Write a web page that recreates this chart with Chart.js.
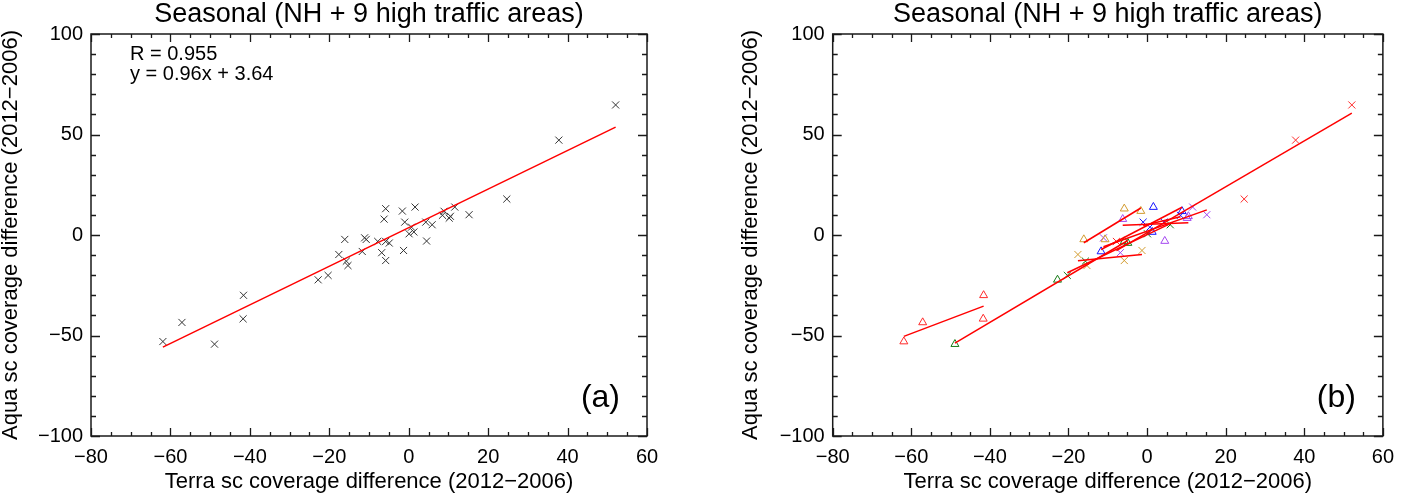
<!DOCTYPE html>
<html><head><meta charset="utf-8">
<script src="https://cdn.jsdelivr.net/npm/chart.js@4.4.0/dist/chart.umd.min.js"></script>
<style>
html,body{margin:0;padding:0;background:#fff;width:1403px;height:495px;overflow:hidden}
#wa{position:absolute;left:0;top:0;width:740px;height:495px}
#wb{position:absolute;left:740px;top:0;width:663px;height:495px}
</style></head><body>
<div id="wa"><canvas id="ca" width="740" height="495"></canvas></div>
<div id="wb"><canvas id="cb" width="663" height="495"></canvas></div>
<script>
// ---- data ----
const chartTitle = 'Seasonal (NH + 9 high traffic areas)';
const xAxisTitle = 'Terra sc coverage difference (2012\u22122006)';
const yAxisTitle = 'Aqua sc coverage difference (2012\u22122006)';
const terraDiff = [-61.9,-57.1,-48.9,-41.6,-41.7,-22.8,-20.3,-17.6,-16.1,-15.7,-15.3,-11.7,-11.1,-10.7,-7.8,-6.8,-6.2,-5.8,-5.8,-5.8,-4.9,-1.6,-1.3,-1.0,0.1,0.7,1.3,1.6,4.3,4.5,5.9,8.5,8.9,10.2,10.5,11.6,15.2,24.7,37.8,52.1];
const aquaDiff  = [-53.0,-43.5,-54.3,-30.0,-41.7,-22.3,-20.1,-9.7,-2.2,-13.0,-15.2,-8.2,-1.4,-2.2,-3.2,-8.8,7.9,13.1,-12.7,-3.2,-4.0,11.9,-7.7,6.4,0.6,3.9,1.5,13.9,6.4,-3.0,5.1,9.8,11.8,8.4,9.3,13.9,10.1,17.9,47.2,64.7];
const areaOfPoint = [0,0,2,0,0,2,3,5,4,3,5,6,9,4,1,9,8,4,5,2,2,4,5,7,3,7,6,6,7,8,3,7,6,8,8,9,9,1,1,1];
const areaNames = ['Area 1','Area 2','Area 3','Area 4','Area 5','Area 6','Area 7','Area 8','Area 9','Area 10'];
const fitR = 0.955;
const fitSlope = 0.96;
const fitIntercept = 3.64;
const xTickRange = [-80, 60];
const yTickRange = [-100, 100];
const panelLabels = ['(a)', '(b)'];

// ---- styles ----
const areaColors = ['#ff2a2a','#ff2a2a','#157a15','#157a15','#d29b2e','#d29b2e','#1414ff','#1414ff','#a448f0','#a448f0'];
const areaSymbols = ['triangle','crossRot','triangle','crossRot','triangle','crossRot','triangle','crossRot','triangle','crossRot'];
const FONT = '"Liberation Sans", Arial, Helvetica, sans-serif';
const fmt = v => v < 0 ? '\u2212' + Math.abs(v) : String(v);

const frameTicks = {
  id: 'frameTicks',
  afterDatasetsDraw(chart) {
    const {ctx, chartArea: a, scales: {x, y}} = chart;
    ctx.save();
    ctx.strokeStyle = '#1a1a1a';
    ctx.lineWidth = 1.3;
    ctx.beginPath();
    for (let v = x.min; v <= x.max + 1e-9; v += 5) {
      const p = Math.round(x.getPixelForValue(v)) + 0.5;
      const len = Math.abs(v % 20) < 1e-9 ? 8 : 4;
      ctx.moveTo(p, a.bottom); ctx.lineTo(p, a.bottom - len);
      ctx.moveTo(p, a.top); ctx.lineTo(p, a.top + len);
    }
    for (let v = y.min; v <= y.max + 1e-9; v += 10) {
      const p = Math.round(y.getPixelForValue(v)) + 0.5;
      const len = Math.abs(v % 50) < 1e-9 ? 9 : 5;
      ctx.moveTo(a.left, p); ctx.lineTo(a.left + len, p);
      ctx.moveTo(a.right, p); ctx.lineTo(a.right - len, p);
    }
    ctx.stroke();
    ctx.lineWidth = 1.5;
    ctx.strokeRect(a.left, a.top, a.right - a.left, a.bottom - a.top);
    ctx.restore();
  }
};

const annot = {
  id: 'annot',
  afterDraw(chart, args, opts) {
    const {ctx, chartArea: a} = chart;
    ctx.save();
    ctx.fillStyle = '#000';
    ctx.textBaseline = 'alphabetic';
    ctx.font = '20px ' + FONT;
    ctx.textAlign = 'left';
    (opts.lines || []).forEach((t, i) => ctx.fillText(t, a.left + 39, a.top + 26 + i * 20));
    ctx.font = '32px ' + FONT;
    ctx.textAlign = 'right';
    ctx.fillText(opts.corner, a.right - 27, a.bottom - 29);
    ctx.restore();
  }
};

function baseOptions(widthY, rightPad, corner, lines) {
  return {
    responsive: false,
    animation: false,
    devicePixelRatio: 1,
    layout: {padding: {left: 0, right: rightPad, top: 0, bottom: 0}},
    plugins: {
      legend: {display: false},
      tooltip: {enabled: false},
      title: {display: true, text: chartTitle, color: '#000', fullSize: false,
        font: {family: FONT, size: 27, weight: 'normal', lineHeight: 1.2},
        padding: {top: -2, bottom: 3.6}},
      annot: {corner, lines}
    },
    scales: {
      x: {type: 'linear', position: 'bottom', min: xTickRange[0], max: xTickRange[1],
        grid: {display: false, drawTicks: false}, border: {display: false},
        ticks: {stepSize: 20, padding: 9, color: '#000', font: {family: FONT, size: 20}, callback: fmt, maxRotation: 0},
        title: {display: true, text: xAxisTitle, color: '#000', font: {family: FONT, size: 22, lineHeight: 1.2}, padding: {top: 2, bottom: 0}},
        afterFit(s) { s.height = 59; }
      },
      y: {type: 'linear', position: 'left', min: yTickRange[0], max: yTickRange[1],
        grid: {display: false, drawTicks: false}, border: {display: false},
        ticks: {stepSize: 50, padding: 8, color: '#000', font: {family: FONT, size: 20}, callback: fmt},
        title: {display: true, text: yAxisTitle, color: '#000', font: {family: FONT, size: 22, lineHeight: 1.2}, padding: {top: -2, bottom: 0}},
        afterFit(s) { s.width = widthY; }
      }
    }
  };
}

// ---- chart (a) ----
const pts = terraDiff.map((x, i) => ({x, y: aquaDiff[i]}));
const xMin = Math.min(...terraDiff), xMax = Math.max(...terraDiff);
new Chart(document.getElementById('ca'), {
  type: 'scatter',
  data: {datasets: [
    {type: 'line', data: [{x: xMin, y: fitSlope * xMin + fitIntercept}, {x: xMax, y: fitSlope * xMax + fitIntercept}],
      borderColor: '#ff0000', borderWidth: 1.5, pointRadius: 0, fill: false, order: 0},
    {data: pts, pointStyle: 'crossRot', pointRadius: 5, pointBorderWidth: 1,
      pointBorderColor: '#333', pointBackgroundColor: 'rgba(0,0,0,0)', order: 1}
  ]},
  options: baseOptions(91, 93, panelLabels[0], ['R = ' + fitR.toFixed(3), 'y = ' + fitSlope + 'x + ' + fitIntercept]),
  plugins: [frameTicks, annot]
});

// ---- chart (b) ----
const dsB = [];
areaNames.forEach((name, k) => {
  const idx = areaOfPoint.map((g, i) => g === k ? i : -1).filter(i => i >= 0);
  const xs = idx.map(i => terraDiff[i]), ys = idx.map(i => aquaDiff[i]);
  const n = xs.length;
  const mx = xs.reduce((s, v) => s + v, 0) / n, my = ys.reduce((s, v) => s + v, 0) / n;
  let sxy = 0, sxx = 0;
  xs.forEach((v, j) => { sxy += (v - mx) * (ys[j] - my); sxx += (v - mx) * (v - mx); });
  const b = sxy / sxx, a0 = my - b * mx;
  const lo = Math.min(...xs), hi = Math.max(...xs);
  dsB.push({type: 'line', label: name + ' fit', data: [{x: lo, y: a0 + b * lo}, {x: hi, y: a0 + b * hi}],
    borderColor: '#ff0000', borderWidth: 1.5, pointRadius: 0, fill: false, order: 0});
  dsB.push({label: name, data: idx.map(i => ({x: terraDiff[i], y: aquaDiff[i]})),
    pointStyle: areaSymbols[k], pointRadius: areaSymbols[k] === 'triangle' ? 4.6 : 5,
    pointBorderWidth: 1, pointBorderColor: areaColors[k], pointBackgroundColor: 'rgba(0,0,0,0)', order: 1});
});
new Chart(document.getElementById('cb'), {
  type: 'scatter',
  data: {datasets: dsB},
  options: baseOptions(92.7, 14, panelLabels[1], []),
  plugins: [frameTicks, annot]
});
</script>
</body></html>
